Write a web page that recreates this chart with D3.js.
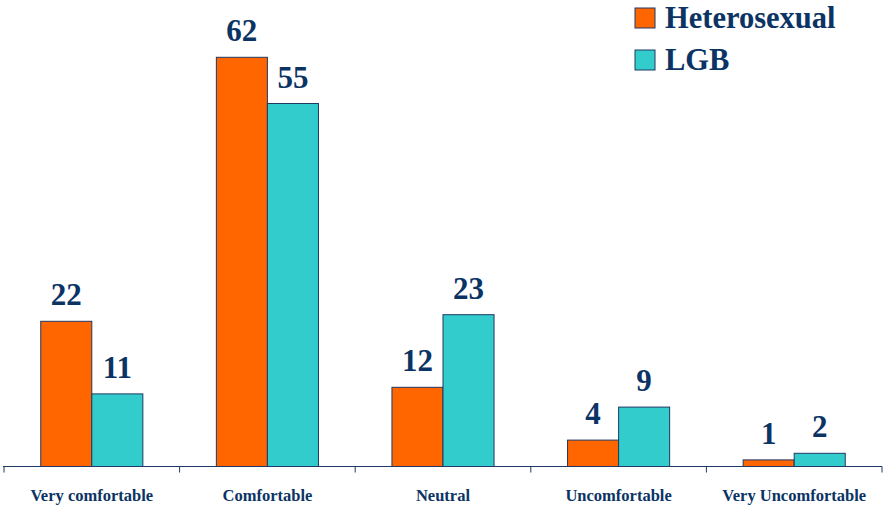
<!DOCTYPE html>
<html>
<head>
<meta charset="utf-8">
<script src="https://cdn.jsdelivr.net/npm/d3@7"></script>
<style>
  body { margin: 0; background: #fff; }
  svg { display: block; }
  text { font-family: "Liberation Serif", "Times New Roman", serif; font-weight: bold; fill: #0B3464; }
</style>
</head>
<body>
<div id="chart"></div>
<script>
var categories = ['Very comfortable', 'Comfortable', 'Neutral', 'Uncomfortable', 'Very Uncomfortable']
var seriesNames = ['Heterosexual', 'LGB']
var heterosexual = [22, 62, 12, 4, 1]
var lgb = [11, 55, 23, 9, 2]
var colors = ['#FF6600', '#33CCCC']

var width = 883
var height = 507

var svg = d3.select('#chart').append('svg')
  .attr('width', width)
  .attr('height', height)

var x0 = d3.scaleBand().domain(categories).range([4, 882])
var x1 = d3.scaleBand().domain(seriesNames).range([0, x0.bandwidth()]).paddingOuter(0.72)
var y = d3.scaleLinear().domain([0, 70]).range([466.5, 4.5])

var rows = categories.map((c, i) => ({cat: c, vals: [
  {s: 'Heterosexual', v: heterosexual[i]},
  {s: 'LGB', v: lgb[i]}
]}))

var g = svg.selectAll('g.cat').data(rows).join('g')
  .attr('class', 'cat')
  .attr('transform', d => `translate(${x0(d.cat)},0)`)

g.selectAll('rect').data(d => d.vals).join('rect')
  .attr('x', d => x1(d.s))
  .attr('y', d => y(d.v))
  .attr('width', x1.bandwidth())
  .attr('height', d => y(0) - y(d.v))
  .attr('fill', d => colors[seriesNames.indexOf(d.s)])
  .attr('stroke', '#1F3864')
  .attr('stroke-width', 1)

g.selectAll('text.val').data(d => d.vals).join('text')
  .attr('class', 'val')
  .attr('x', d => x1(d.s) + x1.bandwidth() / 2)
  .attr('y', d => y(d.v) - 16)
  .attr('text-anchor', 'middle')
  .style('font-size', '31px')
  .text(d => d.v)

// axis
var axis = svg.append('g').attr('transform', `translate(0,${y(0)})`)
axis.append('line')
  .attr('x1', 3).attr('x2', 882)
  .attr('stroke', '#1F3864').attr('stroke-width', 1)
var ticks = categories.map(c => x0(c)).concat([x0.range()[1]])
axis.selectAll('line.tick').data(ticks).join('line')
  .attr('class', 'tick')
  .attr('x1', d => d).attr('x2', d => d)
  .attr('y1', 0).attr('y2', 6)
  .attr('stroke', '#1F3864')
axis.selectAll('text').data(categories).join('text')
  .attr('x', d => x0(d) + x0.bandwidth() / 2)
  .attr('y', 34.5)
  .attr('text-anchor', 'middle')
  .style('font-size', '16.5px')
  .text(d => d)

// legend
var legend = svg.append('g').attr('transform', 'translate(635,8)')
var li = legend.selectAll('g').data(seriesNames).join('g')
  .attr('transform', (d, i) => `translate(0,${i * 42})`)
li.append('rect')
  .attr('width', 20).attr('height', 20)
  .attr('fill', (d, i) => colors[i])
  .attr('stroke', '#1F3864')
li.append('text')
  .attr('x', 30).attr('y', 20)
  .style('font-size', '30.5px')
  .text(d => d)
</script>
</body>
</html>
